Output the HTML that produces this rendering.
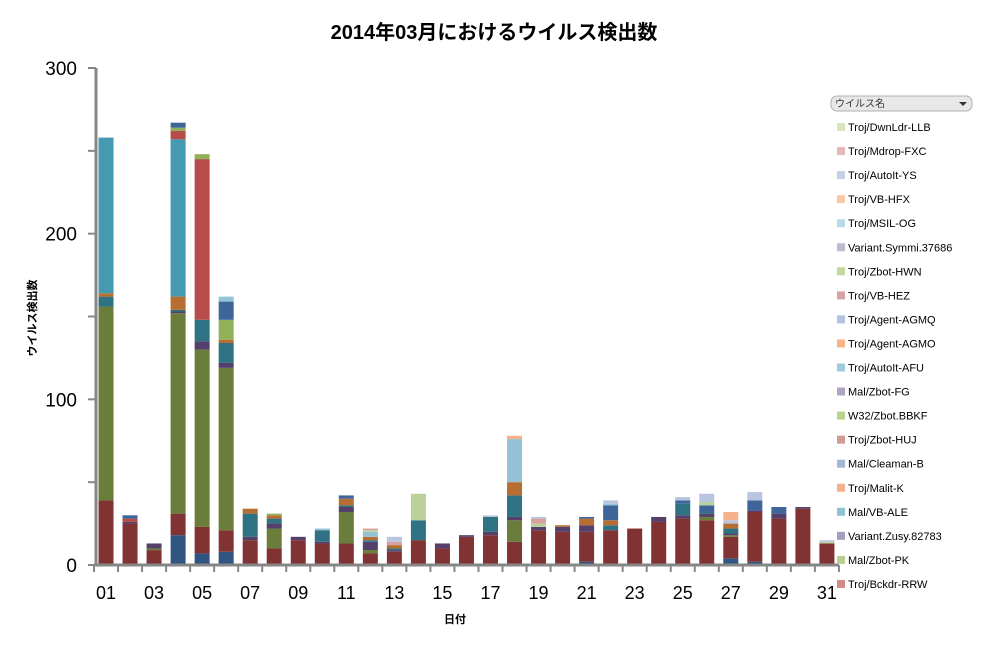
<!DOCTYPE html>
<html><head><meta charset="utf-8"><style>
body{margin:0;background:#fff;}
svg text{font-family:"Liberation Sans","Noto Sans CJK JP",sans-serif;}
</style></head><body>
<svg id="chart" width="987" height="648" xmlns="http://www.w3.org/2000/svg">
<rect width="987" height="648" fill="#fff"/>
<text x="494" y="39" text-anchor="middle" font-size="20" font-weight="bold" fill="#000">2014年03月におけるウイルス検出数</text>
<text transform="translate(36,318) rotate(-90)" text-anchor="middle" font-size="11" font-weight="bold">ウイルス検出数</text>
<text x="455" y="623" text-anchor="middle" font-size="11" font-weight="bold">日付</text>
<g id="bars"></g>
<g id="axes"></g>
<g id="legend"></g>
</svg>
<script>
const days = ["01","02","03","04","05","06","07","08","09","10","11","12","13","14","15","16","17","18","19","20","21","22","23","24","25","26","27","28","29","30","31"];
const yTicks = [0,50,100,150,200,250,300];
const yLabels = ["0","","100","","200","","300"];
const seriesNames = ["A","B","C","D","E","F","G","H","I","J","K","L","M","N","O"];
const seriesColors = ["#2f5580","#813232","#6a7d3a","#553f6b","#2e7283","#b86e30","#4599b1","#b74c4a","#92b059","#3e659a","#93c3d4","#bbd19a","#d9a0a0","#b9c5e0","#f7b08c"];
const sA=[0,0,0,18,7,8,0,0,0,0,0,0,0,0,0,0,0,0,0,0,2,0,0,0,0,0,4,2,0,0,0];
const sB=[39,25,9,13,16,13,15,10,15,13,13,7,8,15,10,17,18,14,21,20,18,21,22,26,28,27,13,30,28,34,13];
const sC=[117,0,1,121,107,98,0,12,0,0,19,2,0,0,0,0,0,13,0,0,0,0,0,0,0,2,1,0,0,0,0];
const sD=[0,1,3,1,5,3,2,3,2,1,3,5,1,0,3,1,2,2,2,3,4,0,0,3,2,2,1,1,3,1,0];
const sE=[6,0,0,1,13,12,14,3,0,7,1,1,1,12,0,0,9,13,0,0,0,3,0,0,7,1,3,0,0,0,0];
const sF=[2,0,0,8,0,2,3,2,0,0,4,2,2,0,0,0,0,8,0,1,4,3,0,0,0,0,3,0,0,0,0];
const sG=[94,0,0,95,0,0,0,0,0,0,0,0,0,0,0,0,0,0,0,0,0,0,0,0,0,0,0,0,0,0,0];
const sH=[0,2,0,5,97,0,0,0,0,0,0,0,0,0,0,0,0,0,0,0,0,0,0,0,0,0,0,0,0,0,0];
const sI=[0,0,0,2,3,12,0,1,0,0,0,0,0,0,0,0,0,0,0,0,0,0,0,0,0,0,0,0,0,0,0];
const sJ=[0,2,0,3,0,11,0,0,0,0,2,0,0,0,0,0,0,0,0,0,1,9,0,0,2,4,0,6,4,0,0];
const sK=[0,0,0,0,0,3,0,0,0,1,0,3,0,0,0,0,0,26,0,0,0,1,0,0,0,0,0,0,0,0,0];
const sL=[0,0,0,0,0,0,0,0,0,0,0,1,0,16,0,0,0,0,2,0,0,0,0,0,0,2,0,0,0,0,1];
const sM=[0,0,0,0,0,0,0,0,0,0,0,1,2,0,0,0,0,0,3,0,0,0,0,0,0,0,0,0,0,0,0];
const sN=[0,0,0,0,0,0,0,0,0,0,0,0,3,0,0,0,1,0,1,0,0,2,0,0,2,5,2,5,0,0,1];
const sO=[0,0,0,0,0,0,0,0,0,0,0,0,0,0,0,0,0,2,0,0,0,0,0,0,0,0,5,0,0,0,0];
const series=[sA,sB,sC,sD,sE,sF,sG,sH,sI,sJ,sK,sL,sM,sN,sO];
const legendNames=["Troj/DwnLdr-LLB","Troj/Mdrop-FXC","Troj/AutoIt-YS","Troj/VB-HFX","Troj/MSIL-OG","Variant.Symmi.37686","Troj/Zbot-HWN","Troj/VB-HEZ","Troj/Agent-AGMQ","Troj/Agent-AGMO","Troj/AutoIt-AFU","Mal/Zbot-FG","W32/Zbot.BBKF","Troj/Zbot-HUJ","Mal/Cleaman-B","Troj/Malit-K","Mal/VB-ALE","Variant.Zusy.82783","Mal/Zbot-PK","Troj/Bckdr-RRW"];
const legendColors=["#d7e4bd","#e6b9b8","#c6d0e3","#fbc9a7","#b7dde8","#c2b9d0","#c3d69b","#d9a3a3","#b3c3e0","#f9b48a","#9fcad8","#b0a4c0","#b8d48c","#d09a97","#a6b6d8","#f7b08c","#92c3d4","#a89dbd","#b9cf90","#d08a88"];
const NS="http://www.w3.org/2000/svg";
const x0=94, step=24.03, y0=565, yTop=68, yMax=300;
const y=v=>y0-(v/yMax)*(y0-yTop);
const xc=i=>x0+step*(i+0.5);
const bars=document.getElementById('bars');
days.forEach((d,i)=>{
  let acc=0;
  series.forEach((s,k)=>{
    const v=s[i]; if(!v) return;
    const r=document.createElementNS(NS,'rect');
    r.setAttribute('x',xc(i)-7.5);r.setAttribute('width',15);
    r.setAttribute('y',y(acc+v));r.setAttribute('height',y(acc)-y(acc+v));
    r.setAttribute('fill',seriesColors[k]);
    
    
    bars.appendChild(r);acc+=v;
  });
});
const axes=document.getElementById('axes');
let h='';
h+='<line x1="96" y1="'+yTop+'" x2="96" y2="'+(y0+1)+'" stroke="#868686" stroke-width="3"/>';
h+='<line x1="'+x0+'" y1="'+y0+'" x2="'+(x0+step*31)+'" y2="'+y0+'" stroke="#868686" stroke-width="3"/>';
yTicks.forEach((t,i)=>{
  h+='<line x1="88" y1="'+y(t)+'" x2="96" y2="'+y(t)+'" stroke="#868686" stroke-width="2"/>';
  if(yLabels[i]) h+='<text x="77" y="'+(y(t)+7)+'" text-anchor="end" font-size="19" fill="#000">'+yLabels[i]+'</text>';
});
for(let i=0;i<=31;i++){const xx=x0+step*i;h+='<line x1="'+xx+'" y1="'+y0+'" x2="'+xx+'" y2="'+(y0+7)+'" stroke="#868686" stroke-width="2"/>';}
days.forEach((d,i)=>{if(i%2===0)h+='<text x="'+xc(i)+'" y="599" text-anchor="middle" font-size="18">'+d+'</text>';});
axes.innerHTML=h;
const lg=document.getElementById('legend');
let lh='<rect x="831" y="96" width="141" height="15" rx="6" fill="#e8e8e8" stroke="#b0b0b0"/><text x="835" y="107" font-size="10" fill="#333">ウイルス名</text><path d="M959 102 L967 102 L963 106 Z" fill="#333"/>';
legendNames.forEach((n,i)=>{const yy=127+i*24.05;
 lh+='<g><rect x="837" y="'+(yy-4)+'" width="8" height="8" fill="'+legendColors[i]+'"/><text x="848" y="'+(yy+4)+'" font-size="11" fill="#000">'+n+'</text></g>';});
lg.innerHTML=lh;
</script>
</body></html>
